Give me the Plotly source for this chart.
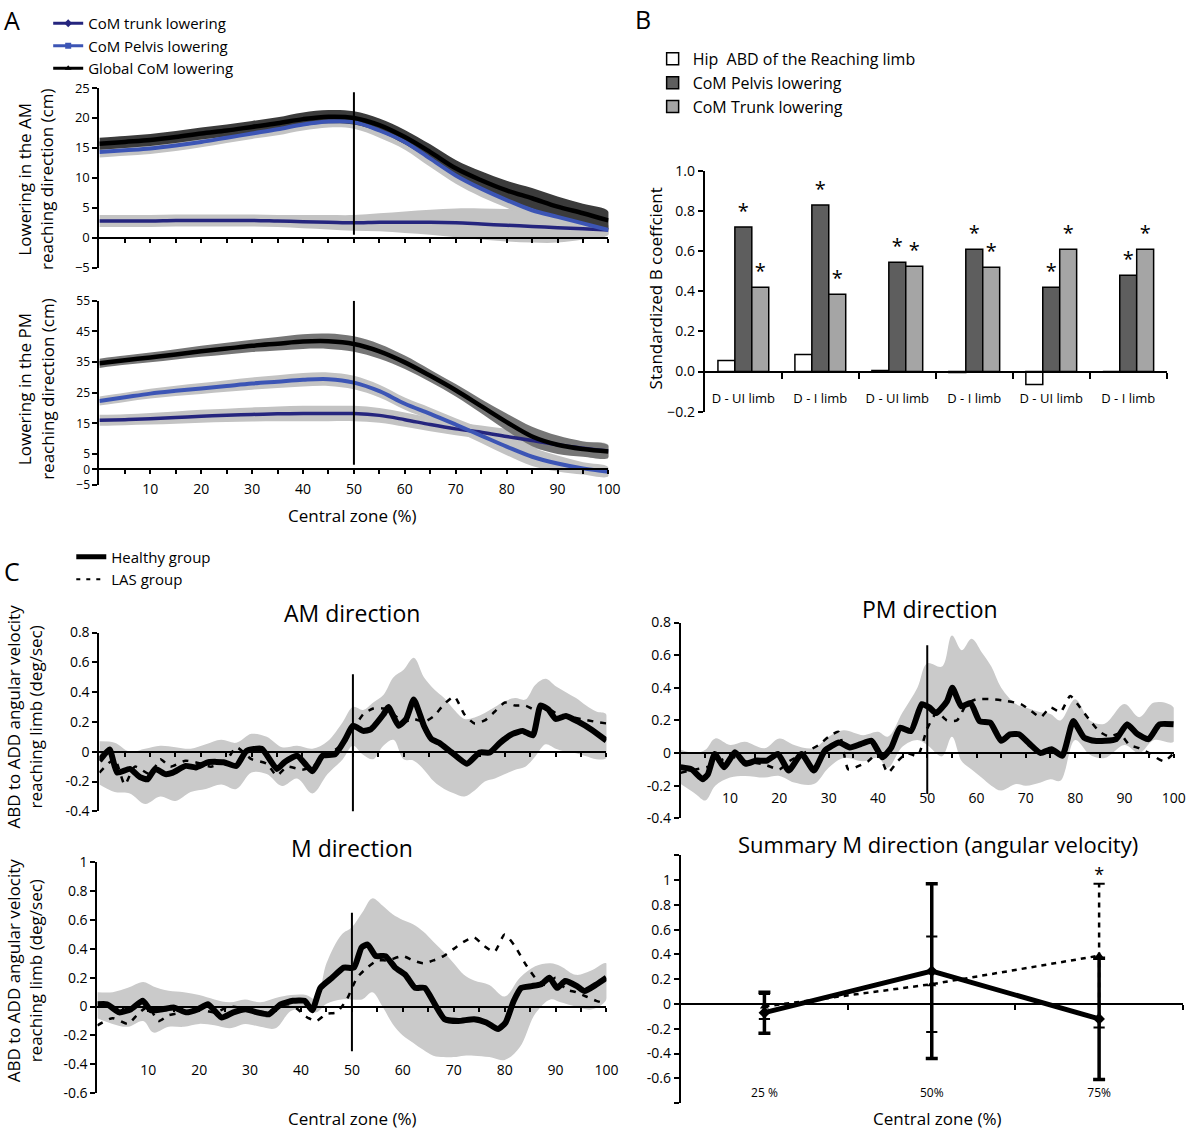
import plotly.graph_objects as go

W, H = 1200, 1133
FONT = "Open Sans"

# the page photo comes out slightly scaled/shifted, so positions are mapped back
def fx(p):
    return (p - 1) / 0.986 / W

def fy(p):
    return 1 - (p - 11) / 0.984 / H

# Panel A ---------------------------------------------------------------------------------------------
a_x = [0, 5, 10, 15, 20, 25, 30, 35, 40, 45, 50, 55, 60, 65, 70, 75, 80, 85, 90, 95, 100]

am_global = [15.7, 16.0, 16.3, 16.8, 17.4, 17.9, 18.5, 19.1, 19.8, 20.2, 20.0, 18.8, 16.8, 14.3, 11.6, 9.6, 7.9, 6.6, 5.2, 4.1, 2.9]
am_global_sd = [1.0, 1.0, 1.0, 1.0, 1.0, 1.0, 1.0, 1.0, 1.1, 1.1, 1.1, 1.1, 1.2, 1.3, 1.4, 1.5, 1.6, 1.7, 1.7, 1.6, 1.5]
am_pelvis = [14.3, 14.6, 14.9, 15.4, 16.0, 16.7, 17.4, 18.1, 18.9, 19.4, 19.3, 17.9, 16.0, 13.2, 10.4, 8.2, 6.3, 4.6, 3.5, 2.4, 1.3]
am_pelvis_sd = [0.9, 0.9, 0.9, 0.9, 0.9, 0.9, 0.9, 1.0, 1.0, 1.0, 1.1, 1.2, 1.3, 1.4, 1.4, 1.4, 1.3, 1.2, 1.1, 1.0, 0.8]
am_trunk = [2.8, 2.8, 2.8, 2.9, 2.9, 2.9, 2.9, 2.8, 2.7, 2.6, 2.5, 2.6, 2.6, 2.6, 2.5, 2.3, 2.1, 1.9, 1.7, 1.5, 1.3]
am_trunk_sd = [1.0, 1.0, 1.0, 1.0, 1.0, 1.0, 1.0, 1.0, 1.1, 1.2, 1.3, 1.5, 1.8, 2.1, 2.4, 2.6, 2.7, 2.7, 2.5, 1.8, 0.8]

pm_global = [34.6, 35.6, 36.5, 37.5, 38.5, 39.4, 40.3, 41.0, 41.7, 41.8, 40.9, 38.5, 34.9, 30.5, 25.8, 20.6, 15.4, 10.7, 8.0, 6.6, 5.8]
pm_global_sd = [1.5, 1.5, 1.6, 1.7, 1.8, 1.9, 2.0, 2.2, 2.4, 2.5, 2.5, 2.4, 2.2, 2.0, 2.0, 2.3, 2.8, 3.2, 3.0, 2.5, 2.0]
pm_pelvis = [22.3, 23.5, 24.7, 25.6, 26.4, 27.2, 28.0, 28.6, 29.2, 29.4, 28.3, 25.5, 21.4, 18.1, 14.6, 11.0, 7.4, 4.1, 1.9, 0.3, -0.8]
pm_pelvis_sd = [1.5, 1.5, 1.6, 1.7, 1.8, 1.9, 2.0, 2.1, 2.2, 2.2, 2.2, 2.1, 2.0, 2.0, 2.1, 2.4, 2.8, 3.0, 2.6, 2.0, 1.5]
pm_trunk = [16.0, 16.2, 16.5, 16.9, 17.3, 17.6, 17.9, 18.1, 18.2, 18.2, 18.2, 17.6, 16.2, 14.6, 13.2, 12.1, 10.7, 9.4, 8.0, 6.9, 6.0]
pm_trunk_sd = [1.8, 1.8, 1.9, 2.0, 2.1, 2.2, 2.3, 2.4, 2.5, 2.5, 2.5, 2.4, 2.3, 2.2, 2.1, 2.2, 2.5, 2.6, 2.5, 2.2, 2.0]

a_ticks_top = [25, 20, 15, 10, 5, 0, -5]
a_ticks_bottom = [55, 45, 35, 25, 15, 5, 0, -5]

# Panel B ---------------------------------------------------------------------------------------------
b_cats = ["D - UI limb", "D - I limb", "D - UI limb", "D - I limb", "D - UI limb", "D - I limb"]
b_groups = ["A M", "M", "P M"]
b_hip = [0.055, 0.085, 0.005, -0.005, -0.065, 0.0]
b_pelvis = [0.72, 0.83, 0.545, 0.61, 0.42, 0.48]
b_trunk = [0.42, 0.385, 0.525, 0.52, 0.61, 0.61]
b_pelvis_sig = ["*", "*", "*", "*", "*", "*"]
b_trunk_sig = ["*", "*", "*", "*", "*", "*"]

# Panel C: AM direction -------------------------------------------------------------------------------
am_h_x = [0, 2, 3.5, 6, 8, 9.5, 11, 13, 14.5, 17, 19, 21.5, 24.5, 27, 29, 32, 35, 36.5, 39, 42,
          44, 46.5, 48.5, 50, 52, 53.5, 56, 57, 59, 60.5, 62, 64, 65.5, 67, 69.5, 72.5, 75, 77, 79, 81.5,
          83.5, 85.5, 87, 88.5, 90, 92, 94.5, 97, 100]
am_h_y = [-0.06, 0.015, -0.14, -0.115, -0.17, -0.185, -0.115, -0.15, -0.14, -0.095, -0.105, -0.07, -0.07, -0.095, 0.005,
          0.02, -0.115, -0.07, -0.027, -0.13, -0.027, -0.016, 0.085, 0.175, 0.14, 0.15, 0.25, 0.3, 0.175, 0.22,
          0.35, 0.175, 0.085, 0.06, -0.005, -0.08, -0.005, -0.005, 0.06, 0.12, 0.14, 0.11, 0.31, 0.285, 0.22,
          0.24, 0.2, 0.15, 0.075]
am_l_x = [0, 3, 5, 7, 10, 12, 14, 17, 20, 22, 25, 27, 30, 33, 35, 37, 40, 42, 45, 48, 50, 52, 54, 56, 58,
          60, 62, 64, 66, 68, 70, 72, 74, 76, 78, 80, 82, 84, 86, 88, 90, 92, 95, 98, 100]
am_l_y = [-0.14, -0.05, -0.22, -0.1, -0.15, -0.05, -0.1, -0.06, -0.08, -0.1, -0.06, 0.03, -0.05, -0.08, -0.16,
          -0.1, -0.12, -0.1, -0.02, 0.05, 0.15, 0.25, 0.29, 0.29, 0.25, 0.2, 0.22, 0.2, 0.24, 0.32,
          0.37, 0.25, 0.19, 0.21, 0.27, 0.33, 0.31, 0.31, 0.28, 0.3, 0.26, 0.24, 0.22, 0.2, 0.19]
am_b_x = [0, 3, 6, 9, 12, 15, 18, 21, 24, 27, 30, 33, 36, 39, 42, 45, 48, 50, 52, 54, 56, 58, 60, 62, 64,
          66, 68, 70, 72, 74, 76, 78, 80, 82, 84, 86, 88, 90, 92, 94, 96, 98, 100]
am_b_hi = [0.07, 0.06, 0.0, 0.02, 0.04, 0.03, 0.02, 0.05, 0.08, 0.06, 0.12, 0.1, 0.03, 0.04, 0.02,
           0.07, 0.2, 0.3, 0.28, 0.33, 0.38, 0.5, 0.55, 0.63, 0.5, 0.42, 0.36, 0.28, 0.22, 0.23,
           0.26, 0.3, 0.34, 0.36, 0.35, 0.45, 0.49, 0.44, 0.4, 0.36, 0.31, 0.27, 0.25]
am_b_lo = [-0.22, -0.27, -0.28, -0.35, -0.3, -0.33, -0.27, -0.25, -0.22, -0.25, -0.14, -0.15, -0.23, -0.18, -0.28,
           -0.15, -0.05, 0.04, -0.02, -0.05, 0.04, 0.08, -0.05, -0.06, -0.12, -0.2, -0.25, -0.28, -0.3, -0.26,
           -0.2, -0.18, -0.15, -0.12, -0.1, -0.03, 0.05, 0.02, 0.0, -0.01, -0.03, -0.05, -0.04]

# Panel C: PM direction -------------------------------------------------------------------------------
pm_h_x = [0, 2.2, 4.4, 5.5, 6.9, 8.8, 11, 13.1, 15.3, 17.5, 19.7, 21.9, 24.5, 27, 29.2, 32.1, 34.3, 36.5, 38.7,
          40.9, 42.7, 44.5, 46.7, 48.9, 50.4, 51.8, 54, 55.1, 56.9, 58.8, 60.6, 62.8, 65, 66.8, 68.6, 70.8,
          73, 75.2, 77.4, 79.6, 81.8, 83.9, 86.1, 88.3, 90.5, 92.7, 94.9, 97.1, 100]
pm_h_y = [-0.087, -0.1, -0.16, -0.13, -0.005, -0.087, 0.005, -0.065, -0.046, -0.046, -0.005, -0.107, -0.005,
          -0.107, 0.014, 0.065, 0.034, 0.055, 0.075, -0.026, 0.034, 0.155, 0.135, 0.3, 0.28, 0.245, 0.317,
          0.4, 0.287, 0.307, 0.196, 0.186, 0.075, 0.115, 0.115, 0.055, 0.0, 0.024, -0.016, 0.196, 0.095,
          0.075, 0.075, 0.085, 0.176, 0.115, 0.085, 0.176, 0.176]
pm_l_x = [0, 3, 6, 10, 13, 17, 20, 22, 25, 28, 30, 32, 34, 36, 38, 40, 42, 44, 46, 48, 50, 52, 54, 56, 58,
          60, 63, 66, 69, 71, 73, 75, 77, 79, 81, 83, 85, 87, 89, 91, 93, 95, 98, 100]
pm_l_y = [-0.12, -0.1, -0.08, -0.02, -0.05, -0.07, -0.1, -0.05, 0.0, 0.05, 0.1, 0.13, -0.1, -0.08, -0.05,
          0.0, -0.12, -0.05, 0.0, -0.02, 0.15, 0.25, 0.2, 0.2, 0.3, 0.33, 0.33, 0.32, 0.3, 0.26,
          0.22, 0.28, 0.25, 0.35, 0.28, 0.2, 0.13, 0.1, 0.12, 0.05, 0.03, 0.0, -0.05, 0.0]
pm_b_x = [0, 3, 5, 7, 10, 13, 17, 20, 23, 27, 30, 33, 37, 40, 42, 45, 48, 50, 53, 55, 57, 59, 61, 63, 65,
          68, 70, 73, 75, 77, 80, 83, 86, 90, 93, 96, 100]
pm_b_hi = [0.02, 0.0, 0.02, 0.09, 0.05, 0.07, 0.03, 0.09, 0.05, 0.03, 0.1, 0.14, 0.11, 0.13, 0.1,
           0.25, 0.4, 0.55, 0.53, 0.72, 0.63, 0.7, 0.62, 0.53, 0.4, 0.3, 0.28, 0.25, 0.24, 0.2,
           0.33, 0.2, 0.18, 0.3, 0.22, 0.31, 0.28]
pm_b_lo = [-0.19, -0.25, -0.29, -0.2, -0.15, -0.14, -0.15, -0.14, -0.18, -0.19, -0.09, -0.03, -0.05, -0.03, -0.09,
           0.04, 0.08, 0.05, -0.02, 0.1, -0.05, -0.1, -0.15, -0.2, -0.23, -0.19, -0.2, -0.18, -0.16, -0.17,
           0.08, -0.01, -0.03, 0.05, 0.0, 0.08, 0.07]

# Panel C: M direction --------------------------------------------------------------------------------
m_h_x = [0, 1.9, 4.3, 6.6, 8.9, 10.5, 12.8, 15.1, 17.4, 19.8, 21.7, 24.4, 26.7, 29.1, 31.4, 33.7, 36, 38.4,
         40.7, 42.2, 43.8, 46.1, 48.4, 50.4, 51.9, 53.1, 54.7, 56.6, 58.5, 60.5, 62.4, 64.3, 66.3, 68.2,
         70.9, 74, 76.4, 78.7, 80.2, 81.8, 83.3, 85.3, 87.2, 88.8, 90.3, 91.9, 94.2, 95.7, 98.1, 100]
m_h_y = [0.016, 0.016, -0.04, -0.018, 0.04, -0.025, -0.018, -0.007, -0.04, -0.018, 0.016, -0.076, -0.04,
         -0.018, -0.04, -0.053, 0.016, 0.04, 0.04, -0.025, 0.13, 0.2, 0.27, 0.27, 0.41, 0.43, 0.35, 0.35,
         0.27, 0.22, 0.13, 0.13, 0.016, -0.087, -0.1, -0.087, -0.11, -0.156, -0.11, 0.04, 0.13, 0.142,
         0.155, 0.2, 0.13, 0.177, 0.142, 0.108, 0.155, 0.2]
m_l_x = [0, 3, 6, 8, 10, 12, 14, 17, 20, 23, 26, 30, 33, 36, 39, 41, 43, 45, 47, 49, 51, 53, 55, 57, 60,
         62, 64, 66, 68, 70, 72, 74, 76, 78, 80, 82, 84, 86, 88, 90, 92, 94, 96, 98, 100]
m_l_y = [-0.13, -0.08, -0.12, -0.05, 0.0, -0.1, -0.06, -0.04, -0.02, -0.04, 0.0, -0.02, -0.04, 0.0, -0.01,
         -0.07, -0.1, -0.05, -0.04, 0.05, 0.2, 0.27, 0.32, 0.32, 0.35, 0.32, 0.3, 0.32, 0.35, 0.4,
         0.45, 0.48, 0.42, 0.38, 0.5, 0.42, 0.3, 0.2, 0.15, 0.2, 0.12, 0.1, 0.07, 0.04, 0.02]
m_b_x = [0, 3, 6, 9, 11, 14, 17, 20, 23, 26, 29, 32, 35, 38, 41, 43, 45, 48, 50, 52, 54, 56, 58, 60, 62,
         64, 66, 68, 70, 72, 74, 77, 80, 83, 86, 89, 91, 94, 97, 100]
m_b_hi = [0.1, 0.1, 0.13, 0.17, 0.14, 0.11, 0.1, 0.08, 0.05, 0.03, 0.05, 0.03, 0.06, 0.08, 0.08,
          0.05, 0.3, 0.5, 0.55, 0.65, 0.75, 0.7, 0.64, 0.6, 0.57, 0.52, 0.45, 0.38, 0.3, 0.22,
          0.18, 0.15, 0.07, 0.2, 0.28, 0.3, 0.28, 0.22, 0.25, 0.3]
m_b_lo = [-0.08, -0.12, -0.14, -0.1, -0.18, -0.14, -0.14, -0.12, -0.13, -0.15, -0.12, -0.14, -0.15, -0.03, -0.01,
          -0.04, 0.02, 0.05, 0.05, 0.05, 0.1, 0.0, -0.12, -0.2, -0.25, -0.3, -0.34, -0.35, -0.35, -0.34,
          -0.34, -0.35, -0.37, -0.28, -0.05, 0.05, 0.03, 0.0, -0.02, 0.05]

c_xticks = [10, 20, 30, 40, 50, 60, 70, 80, 90, 100]

# Summary ---------------------------------------------------------------------------------------------
s_cats = ["25 %", "50%", "75%"]
s_healthy = [-0.07, 0.265, -0.12]
s_healthy_err = [0.165, 0.705, 0.49]
s_las = [-0.02, 0.16, 0.39]
s_las_err = [0.1, 0.385, 0.58]
s_sig = ["", "", "*"]

fig = go.Figure()


def band(x, lo, hi, color, xa, ya, shape="linear"):
    fig.add_trace(go.Scatter(x=list(x) + list(x)[::-1], y=list(hi) + list(lo)[::-1], fill="toself",
                             fillcolor=color, mode="lines", line=dict(width=0, shape=shape),
                             hoverinfo="skip", showlegend=False, xaxis=xa, yaxis=ya))


def line(x, y, color, width, xa, ya, dash="solid", shape="linear", smoothing=1.0):
    fig.add_trace(go.Scatter(x=x, y=y, mode="lines",
                             line=dict(color=color, width=width, dash=dash, shape=shape, smoothing=smoothing),
                             showlegend=False, xaxis=xa, yaxis=ya))


NAVY = "#25257e"
BLUE = "#3c55b5"
LGRAY = "#c3c3c3"

# A top / bottom
for xa, ya, glob, gsd, pel, psd, tr, tsd, gcol in [
        ("x", "y", am_global, am_global_sd, am_pelvis, am_pelvis_sd, am_trunk, am_trunk_sd, "#3b3b3b"),
        ("x2", "y2", pm_global, pm_global_sd, pm_pelvis, pm_pelvis_sd, pm_trunk, pm_trunk_sd, "#767676")]:
    band(a_x, [m - s for m, s in zip(tr, tsd)], [m + s for m, s in zip(tr, tsd)], LGRAY, xa, ya, "spline")
    band(a_x, [m - s for m, s in zip(pel, psd)], [m + s for m, s in zip(pel, psd)], LGRAY, xa, ya, "spline")
    band(a_x, [m - s for m, s in zip(glob, gsd)], [m + s for m, s in zip(glob, gsd)], gcol, xa, ya, "spline")
    line(a_x, tr, NAVY, 3.5, xa, ya, shape="spline")
    line(a_x, pel, BLUE, 4, xa, ya, shape="spline")
    line(a_x, glob, "black", 4.5, xa, ya, shape="spline")

# legend entries for A
for name, col, sym in [("CoM trunk lowering", NAVY, "diamond"), ("CoM Pelvis lowering", BLUE, "square"),
                       ("Global CoM lowering", "black", "triangle-up")]:
    fig.add_trace(go.Scatter(x=[None], y=[None], mode="lines+markers", name=name,
                             line=dict(color=col, width=3), marker=dict(symbol=sym, size=6, color=col),
                             legend="legend", xaxis="x", yaxis="y"))

# B bars
b_pos = list(range(len(b_cats)))
fig.add_trace(go.Bar(x=b_pos, y=b_hip, name="Hip  ABD of the Reaching limb",
                     marker=dict(color="white", line=dict(color="black", width=1.5)),
                     legend="legend2", xaxis="x4", yaxis="y4"))
fig.add_trace(go.Bar(x=b_pos, y=b_pelvis, name="CoM Pelvis lowering",
                     marker=dict(color="#5e5e5e", line=dict(color="black", width=1.5)),
                     text=b_pelvis_sig, textposition="outside", textfont=dict(size=20, color="black"), cliponaxis=False,
                     legend="legend2", xaxis="x4", yaxis="y4"))
fig.add_trace(go.Bar(x=b_pos, y=b_trunk, name="CoM Trunk lowering",
                     marker=dict(color="#a5a5a5", line=dict(color="black", width=1.5)),
                     text=b_trunk_sig, textposition="outside", textfont=dict(size=20, color="black"), cliponaxis=False,
                     legend="legend2", xaxis="x4", yaxis="y4"))

# C time series
CBAND = "#cacaca"
for xa, ya, bx, blo, bhi, lx, ly, hx, hy in [
        ("x6", "y6", am_b_x, am_b_lo, am_b_hi, am_l_x, am_l_y, am_h_x, am_h_y),
        ("x7", "y7", pm_b_x, pm_b_lo, pm_b_hi, pm_l_x, pm_l_y, pm_h_x, pm_h_y),
        ("x9", "y9", m_b_x, m_b_lo, m_b_hi, m_l_x, m_l_y, m_h_x, m_h_y)]:
    band(bx, blo, bhi, CBAND, xa, ya, "spline")
    line(lx, ly, "black", 2.5, xa, ya, dash="6px,7px", shape="spline", smoothing=0.6)
    line(hx, hy, "black", 6, xa, ya, shape="spline", smoothing=0.5)

fig.add_trace(go.Scatter(x=[None], y=[None], mode="lines", name="Healthy group", line=dict(color="black", width=5),
                         legend="legend3", xaxis="x6", yaxis="y6"))
fig.add_trace(go.Scatter(x=[None], y=[None], mode="lines", name="LAS group", line=dict(color="black", width=2, dash="4px,6px"),
                         legend="legend3", xaxis="x6", yaxis="y6"))

# Summary
s_pos = list(range(len(s_cats)))
las_seg_x, las_seg_y = [], []
for p, v, e in zip(s_pos, s_las, s_las_err):
    las_seg_x += [p, p, None]
    las_seg_y += [v - e, v + e, None]
fig.add_trace(go.Scatter(x=las_seg_x, y=las_seg_y, mode="lines+markers", line=dict(color="black", width=2.5, dash="5px,5px"),
                         marker=dict(symbol="line-ew-open", size=8, line=dict(width=2, color="black")),
                         showlegend=False, xaxis="x11", yaxis="y11"))
fig.add_trace(go.Scatter(x=s_pos, y=s_las, mode="lines+markers", line=dict(color="black", width=2.5, dash="5px,5px"),
                         marker=dict(symbol="triangle-up", size=8, color="black"), showlegend=False, xaxis="x11", yaxis="y11"))
fig.add_trace(go.Scatter(x=s_pos, y=s_healthy, mode="lines+markers", line=dict(color="black", width=5),
                         marker=dict(symbol="diamond", size=9, color="black"),
                         error_y=dict(type="data", array=s_healthy_err, color="black", thickness=3.5, width=6),
                         showlegend=False, xaxis="x11", yaxis="y11"))
fig.add_trace(go.Scatter(x=s_pos, y=[v + e + 0.06 for v, e in zip(s_las, s_las_err)], mode="text", text=s_sig,
                         textposition="middle center", textfont=dict(size=18, color="black"), cliponaxis=False,
                         showlegend=False, xaxis="x11", yaxis="y11"))

# dummy traces so label-only axes are drawn
for xa, ya in [("x3", "y2"), ("x5", "y4"), ("x8", "y7"), ("x10", "y9"), ("x12", "y11")]:
    fig.add_trace(go.Scatter(x=[None], y=[None], showlegend=False, xaxis=xa, yaxis=ya))


# Axes ------------------------------------------------------------------------------------------------
def yax(xanchor, top, bottom, rng, tickvals, ticktext=None, fmt=None, size=14):
    d = dict(domain=[fy(bottom), fy(top)], range=rng, anchor=xanchor, showline=True, linecolor="black",
             linewidth=2, ticks="outside", ticklen=5, tickwidth=2, tickcolor="black", tickvals=tickvals,
             showgrid=False, zeroline=False, tickfont=dict(size=size, color="black"))
    if ticktext is not None:
        d["ticktext"] = ticktext
    if fmt:
        d["tickformat"] = fmt
    return d


def xzero(left, right, rng, top, bottom, yrng, tickvals, ticklen=4):
    zero_pix = top + (yrng[1] - 0) / (yrng[1] - yrng[0]) * (bottom - top)
    return dict(domain=[fx(left), fx(right)], range=rng, anchor="free", position=fy(zero_pix), showline=True,
                linecolor="black", linewidth=2, ticks="outside", ticklen=ticklen, tickwidth=1.5, tickcolor="black",
                tickvals=tickvals, showticklabels=False, showgrid=False, zeroline=False)


def xlab(overlay, left, right, rng, pix, tickvals, ticktext, size):
    return dict(overlaying=overlay, domain=[fx(left), fx(right)], range=rng, anchor="free", position=fy(pix),
                showline=False, ticks="", tickvals=tickvals, ticktext=ticktext, showgrid=False, zeroline=False,
                tickfont=dict(size=size, color="black"))


five = list(range(5, 101, 5))

A_TOP = (89, 269)
A_BOT = (302, 486)
B_BOX = (172, 413)
AM_BOX = (634, 813)
PM_BOX = (624, 820)
M_BOX = (864, 1095)
S_BOX = (857, 1105)
PM_RIGHT = 1170
S_RIGHT = 1179

shapes = [
    dict(type="line", xref="x", yref="y", x0=50, x1=50, y0=0.5, y1=24.3, line=dict(color="black", width=2)),
    dict(type="line", xref="x2", yref="y2", x0=50, x1=50, y0=1.5, y1=55, line=dict(color="black", width=2)),
    dict(type="line", xref="x6", yref="y6", x0=50, x1=50, y0=-0.42, y1=0.52, line=dict(color="black", width=2)),
    dict(type="line", xref="x7", yref="y7", x0=50, x1=50, y0=-0.25, y1=0.66, line=dict(color="black", width=2)),
    dict(type="line", xref="x9", yref="y9", x0=50, x1=50, y0=-0.31, y1=0.65, line=dict(color="black", width=2)),
]


def ann(x, y, text, size, angle=0, xanchor="center", xref="paper", yref="paper"):
    return dict(x=x, y=y, xref=xref, yref=yref, text=text, showarrow=False, textangle=angle,
                xanchor=xanchor, yanchor="middle", font=dict(size=size, color="black"))


annotations = [
    ann(fx(3), fy(21), "A", 25, xanchor="left"),
    ann(fx(631), fy(20), "B", 25, xanchor="left"),
    ann(fx(3), fy(572), "C", 25, xanchor="left"),
    ann(fx(37), fy(180), "Lowering in the AM<br>reaching direction (cm)", 17, angle=-90),
    ann(fx(37), fy(390), "Lowering in the PM<br>reaching direction (cm)", 17, angle=-90),
    ann(fx(352), fy(517), "Central zone (%)", 17),
    ann(fx(654), fy(290), "Standardized B coeffcient", 17, angle=-90),
    ann(fx(25), fy(718), "ABD to ADD angular velocity<br>reaching limb (deg/sec)", 17, angle=-90),
    ann(fx(25), fy(972), "ABD to ADD angular velocity<br>reaching limb (deg/sec)", 17, angle=-90),
    ann(fx(352), fy(614), "AM direction", 23),
    ann(fx(927), fy(610), "PM direction", 23),
    ann(fx(352), fy(850), "M direction", 23),
    ann(fx(935), fy(846), "Summary M direction (angular velocity)", 22),
    ann(fx(352), fy(1120), "Central zone (%)", 17),
    ann(fx(935), fy(1120), "Central zone (%)", 17),
]
for i, g in enumerate(b_groups):
    annotations.append(ann(2 * i + 0.5, 1.045, g, 21, xref="x4", yref="y4"))

legend_common = dict(bgcolor="rgba(0,0,0,0)", xanchor="left", yanchor="top", tracegroupgap=0,
                     itemclick=False)

fig.update_layout(
    width=W, height=H, margin=dict(l=0, r=0, t=0, b=0),
    paper_bgcolor="white", plot_bgcolor="white",
    font=dict(family=FONT, color="black"),
    barmode="group", bargap=0.34, bargroupgap=0,
    showlegend=True,
    legend=dict(x=fx(49), y=fy(8), font=dict(size=15), **legend_common),
    legend2=dict(x=fx(651), y=fy(43), font=dict(size=16), **legend_common),
    legend3=dict(x=fx(72), y=fy(542), font=dict(size=15), **legend_common),
    # A top
    xaxis=xzero(100, 607, [0, 100], A_TOP[0], A_TOP[1], [-5, 25], five),
    yaxis=yax("x", A_TOP[0], A_TOP[1], [-5, 25], a_ticks_top, size=13),
    # A bottom
    xaxis2=xzero(100, 607, [0, 100], A_BOT[0], A_BOT[1], [-5, 55], five),
    yaxis2=yax("x2", A_BOT[0], A_BOT[1], [-5, 55], a_ticks_bottom, size=12),
    xaxis3=xlab("x2", 100, 607, [0, 100], 480, c_xticks, [str(v) for v in c_xticks], 14),
    # B
    xaxis4=xzero(703, 1163, [-0.5, 5.5], B_BOX[0], B_BOX[1], [-0.2, 1.0], [0.5, 1.5, 2.5, 3.5, 4.5, 5.5], ticklen=6),
    yaxis4=yax("x4", B_BOX[0], B_BOX[1], [-0.2, 1.0], [-0.2, 0, 0.2, 0.4, 0.6, 0.8, 1.0], fmt=".1f"),
    xaxis5=xlab("x4", 703, 1163, [-0.5, 5.5], 390, b_pos, b_cats, 13),
    # C AM
    xaxis6=xzero(100, 605, [0, 100], AM_BOX[0], AM_BOX[1], [-0.4, 0.8], five),
    yaxis6=yax("x6", AM_BOX[0], AM_BOX[1], [-0.4, 0.8], [-0.4, -0.2, 0, 0.2, 0.4, 0.6, 0.8],
               ["-0.4", "-0.2", "0", "0.2", "0.4", "0.6", "0.8"]),
    # C PM
    xaxis7=xzero(679, PM_RIGHT, [0, 100], PM_BOX[0], PM_BOX[1], [-0.4, 0.8], five),
    yaxis7=yax("x7", PM_BOX[0], PM_BOX[1], [-0.4, 0.8], [-0.4, -0.2, 0, 0.2, 0.4, 0.6, 0.8],
               ["-0.4", "-0.2", "0", "0.2", "0.4", "0.6", "0.8"]),
    xaxis8=xlab("x7", 679, PM_RIGHT, [0, 100], 790, c_xticks, [str(v) for v in c_xticks], 14),
    # C M
    xaxis9=xzero(98, 605, [0, 100], M_BOX[0], M_BOX[1], [-0.6, 1.0], five),
    yaxis9=yax("x9", M_BOX[0], M_BOX[1], [-0.6, 1.0], [-0.6, -0.4, -0.2, 0, 0.2, 0.4, 0.6, 0.8, 1.0],
               ["-0.6", "-0.4", "-0.2", "0", "0.2", "0.4", "0.6", "0.8", "1"]),
    xaxis10=xlab("x9", 98, 605, [0, 100], 1062, c_xticks, [str(v) for v in c_xticks], 14),
    # Summary
    xaxis11=xzero(679, S_RIGHT, [-0.5, 2.5], S_BOX[0], S_BOX[1], [-0.8, 1.2], [0.5, 1.5, 2.5], ticklen=5),
    yaxis11=yax("x11", S_BOX[0], S_BOX[1], [-0.8, 1.2], [-0.8, -0.6, -0.4, -0.2, 0, 0.2, 0.4, 0.6, 0.8, 1.0, 1.2],
                ["", "-0.6", "-0.4", "-0.2", "0", "0.2", "0.4", "0.6", "0.8", "1", ""]),
    xaxis12=xlab("x11", 679, S_RIGHT, [-0.5, 2.5], 1086, s_pos, s_cats, 12),
    shapes=shapes,
    annotations=annotations,
)

fig.write_html("out.html", config={"displayModeBar": False},
               post_script="document.documentElement.style.overflow='hidden';"
                           "document.body.style.margin='0px';document.body.style.overflow='hidden';")
